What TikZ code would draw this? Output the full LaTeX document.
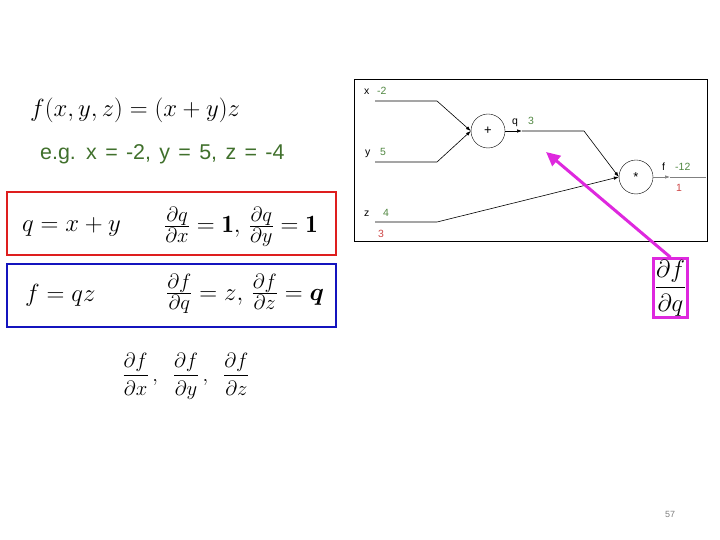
\documentclass[tikz,border=0pt]{standalone}
\usepackage{amsmath}
\usepackage{fontspec}
\setsansfont{Liberation Sans}
\newfontfamily\egfont[WordSpace=1.4]{Liberation Sans}
\DeclareMathSizes{25}{25}{21}{15}
\usetikzlibrary{arrows.meta}
\definecolor{egreen}{RGB}{64,112,44}
\definecolor{vgreen}{RGB}{80,135,65}
\definecolor{gred}{RGB}{205,70,70}
\definecolor{boxred}{RGB}{222,30,30}
\definecolor{boxblue}{RGB}{20,20,190}
\definecolor{hilite}{RGB}{222,40,222}
\begin{document}
\begin{tikzpicture}[x=1bp, y=-1bp, op/.style={draw, circle, minimum size=34bp, inner sep=0pt, font=\sffamily\fontsize{13}{15}\selectfont}, lbl/.style={anchor=base west, inner sep=0pt, font=\sffamily\fontsize{10.5}{12}\selectfont}, val/.style={lbl, text=vgreen}, grad/.style={lbl, text=gred}, wire/.style={draw=black, line width=0.6bp}, tip/.style={-{Latex[length=5bp, width=3.5bp]}}, eqbox/.style={draw, line width=2.6bp, minimum width=329bp, minimum height=63bp}, eq/.style={anchor=base west, inner sep=0pt, font=\fontsize{25}{29}\selectfont}]

\useasboundingbox (0,0) rectangle (720,540);

\node[eq, font=\fontsize{23.5}{27}\selectfont] (fxyz) at (30,117) {$f(x,y,z) = (x+y)z$};
\node[anchor=base west, inner sep=0pt, text=egreen, font=\egfont\fontsize{21.5}{24}\selectfont] (eg) at (40,160) {e.g. x = -2, y = 5, z = -4};

\node[eqbox, draw=boxred] (redbox) at (171.5,223.5) {};
\node[eqbox, draw=boxblue] (bluebox) at (171.5,295.5) {};
\node[eq] (qdef) at (22,232) {$q = x + y$};
\node[eq] (qgrad) at (164,233) {$\frac{\partial q}{\partial x} = \mathbf{1},\, \frac{\partial q}{\partial y} = \mathbf{1}$};
\node[eq] (fdef) at (25,301) {$f = qz$};
\node[eq] (fgrad) at (166,300) {$\frac{\partial f}{\partial q} = z,\, \frac{\partial f}{\partial z} = \boldsymbol{q}$};
\node[font=\fontsize{20.5}{24}\selectfont] (want) at (186,376) {$\dfrac{\partial f}{\partial x}\,,\;\;\dfrac{\partial f}{\partial y}\,,\;\;\dfrac{\partial f}{\partial z}$};

\draw [line width=0.8bp] (354,79) rectangle (707,241);

\node[op] (plus) at (488,131) {+};
\node[op] (times) at (636,177) {*};

\coordinate (xin) at (375,101);
\coordinate (xbend) at (437,101);
\coordinate (yin) at (375,162);
\coordinate (ybend) at (437,162);
\coordinate (zin) at (375,222);
\coordinate (zbend) at (437,222);
\coordinate (qtip) at (522,131);
\coordinate (qbend) at (584,131);
\coordinate (ftip) at (670,177);
\coordinate (fout) at (706,177);

\node[lbl] (xname) at (364,95) {x};
\node[val] (xval) at (377,95) {-2};
\node[lbl] (yname) at (365,156) {y};
\node[val] (yval) at (380,156) {5};
\node[lbl] (zname) at (364,217) {z};
\node[val] (zval) at (383,217) {4};
\node[grad] (zgrad) at (378,238) {3};
\node[lbl] (qname) at (512,125) {q};
\node[val] (qval) at (528,125) {3};
\node[lbl] (fname) at (662,171) {f};
\node[val] (fval) at (675,171) {-12};
\node[grad] (fgradv) at (676,192) {1};

\draw [wire, tip] (xin) -- (xbend) -- (plus.west);
\draw [wire, tip] (yin) -- (ybend) -- (plus.west);
\draw [wire, tip] (plus.east) -- (qtip);
\draw [wire, tip] (qtip) -- (qbend) -- (times.west);
\draw [wire, tip] (zin) -- (zbend) -- (times.west);
\draw [wire, draw=gray, tip] (times.east) -- (ftip);
\draw [wire, draw=gray] (ftip) -- (fout);

\node[draw=hilite, line width=2.6bp, inner sep=1.5bp, font=\fontsize{25}{29}\selectfont] (dfdq) at (670.5,288) {$\dfrac{\partial f}{\partial q}$};
\coordinate (target) at (546,152);
\draw [draw=hilite, line width=3bp, -{Triangle[length=14bp, width=13bp]}] (dfdq.north) -- (target);

\node[text=gray, font=\sffamily\fontsize{9}{10}\selectfont] (pnum) at (670,514) {57};

\end{tikzpicture}
\end{document}
